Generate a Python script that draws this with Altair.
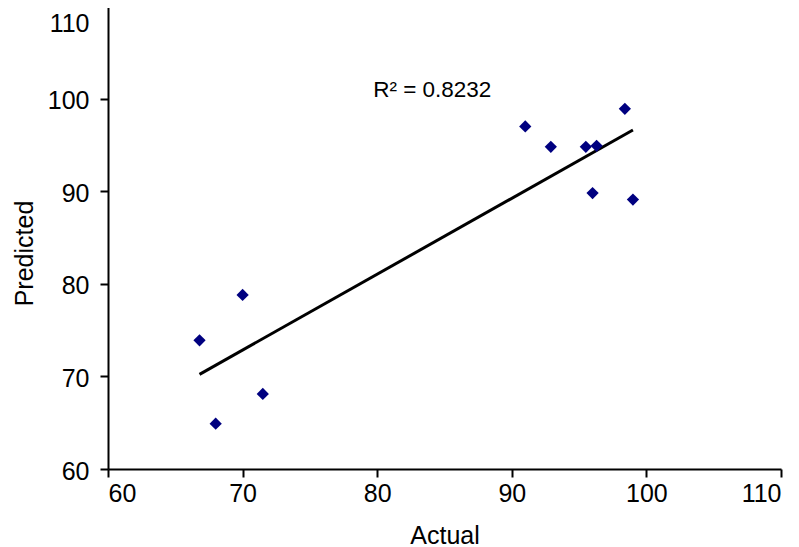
import altair as alt
import pandas as pd

# Data
actual = [66.8, 70.0, 71.5, 68.0, 91.0, 92.9, 95.5, 96.3, 98.4, 96.0, 99.0]
predicted = [73.9, 78.8, 68.1, 64.9, 97.0, 94.8, 94.8, 94.9, 98.9, 89.8, 89.1]
tick_values = [60, 70, 80, 90, 100, 110]
r2_label = ["R² = 0.8232"]
r2_pos_x = [79.7]
r2_pos_y = [100.2]

df = pd.DataFrame({"Actual": actual, "Predicted": predicted})
ann = pd.DataFrame({"x": r2_pos_x, "y": r2_pos_y, "label": r2_label})

FONT = "Liberation Sans"

xscale = alt.Scale(domain=[60, 110], nice=False, zero=False)
yscale = alt.Scale(domain=[60, 110], nice=False, zero=False)

xaxis = alt.Axis(values=tick_values, title="Actual", labelPadding=4,
                 titleY=74, titleBaseline="alphabetic")
yaxis = alt.Axis(
    values=tick_values, title="Predicted", labelPadding=11,
    labelOffset={"condition": {"test": "datum.value >= 110", "value": 5},
                 "value": 2},
    labelBaseline={"condition": {"test": "datum.value >= 110", "value": "top"},
                   "value": "middle"},
    titleAngle=270, titleAlign="center",
    titleBaseline="alphabetic", titleX=-76, titleY=247,
)

points = alt.Chart(df).mark_point(
    shape="diamond", filled=True, size=150, color="#000080", opacity=1
).encode(
    x=alt.X("Actual:Q", scale=xscale, axis=xaxis),
    y=alt.Y("Predicted:Q", scale=yscale, axis=yaxis),
)

trend = alt.Chart(df).transform_regression(
    "Actual", "Predicted"
).mark_line(color="black", strokeWidth=3).encode(
    x=alt.X("Actual:Q", scale=xscale),
    y=alt.Y("Predicted:Q", scale=yscale),
)

text = alt.Chart(ann).mark_text(
    align="left", baseline="alphabetic", font=FONT, fontSize=22.5, color="black"
).encode(
    x=alt.X("x:Q", scale=xscale),
    y=alt.Y("y:Q", scale=yscale),
    text="label:N",
)

chart = alt.layer(trend, points, text).properties(
    width=673,
    height=463,
    padding={"left": 100, "top": -2, "right": 10, "bottom": 78},
    autosize=alt.AutoSizeParams(type="none"),
    background="white",
).configure_view(stroke=None).configure_axis(
    grid=False,
    domainColor="black",
    domainWidth=2,
    tickColor="black",
    tickWidth=2,
    tickSize=8,
    labelFont=FONT,
    labelFontSize=25,
    labelColor="black",
    titleFont=FONT,
    titleFontSize=25,
    titleFontWeight="normal",
    titleColor="black",
)

chart.save("out.html", embed_options={"renderer": "svg", "actions": False})
